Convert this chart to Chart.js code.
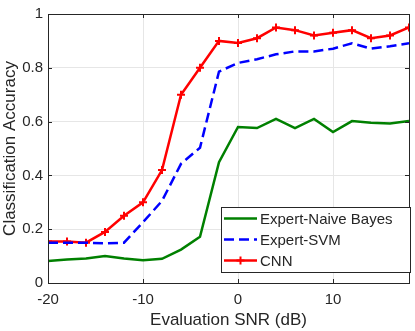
<!DOCTYPE html>
<html>
<head>
    <script src="https://cdn.jsdelivr.net/npm/chart.js@4.3.0/dist/chart.umd.min.js"></script>
    <style>
        html, body { margin: 0; padding: 0; background: #fff; }
        #wrap { width: 415px; height: 331px; }
    </style>
</head>
<body>
    <div id="wrap"><canvas id="myChart"></canvas></div>
    <script>
        // values, one point every 2 dB
        const snr = [-20, -18, -16, -14, -12, -10, -8, -6, -4, -2, 0, 2, 4, 6, 8, 10, 12, 14, 16, 18];
        const naiveBayes = [0.082, 0.087, 0.091, 0.10, 0.091, 0.085, 0.09, 0.124, 0.172, 0.449, 0.58, 0.576, 0.61, 0.576, 0.61, 0.561, 0.602, 0.596, 0.593, 0.602];
        const svm = [0.15, 0.15, 0.15, 0.147, 0.15, 0.226, 0.305, 0.443, 0.503, 0.786, 0.818, 0.832, 0.85, 0.861, 0.861, 0.871, 0.891, 0.871, 0.88, 0.891];
        const cnn = [0.154, 0.154, 0.15, 0.19, 0.25, 0.30, 0.42, 0.70, 0.80, 0.90, 0.892, 0.91, 0.95, 0.94, 0.92, 0.93, 0.94, 0.91, 0.92, 0.95];
        const seriesNames = ["Expert-Naive Bayes", "Expert-SVM", "CNN"];
        const xTicks = [-20, -10, 0, 10];
        const yTicks = [0, 0.2, 0.4, 0.6, 0.8, 1];

        const textColor = '#262626';
        const font = 'Liberation Sans, Arial, sans-serif';

        function pts(ys) {
            return snr.map((x, i) => ({ x: x, y: ys[i] }));
        }

        // box around the axes, inward ticks, legend inside the plot
        const boxPlugin = {
            id: 'box',
            afterDatasetsDraw(chart) {
                const ctx = chart.ctx;
                const a = chart.chartArea;
                const xs = chart.scales.x, ys = chart.scales.y;
                ctx.save();
                ctx.strokeStyle = textColor;
                ctx.lineWidth = 1;
                ctx.beginPath();
                xTicks.forEach(v => {
                    const px = Math.round(xs.getPixelForValue(v)) + 0.5;
                    ctx.moveTo(px, a.bottom); ctx.lineTo(px, a.bottom - 4);
                    ctx.moveTo(px, a.top); ctx.lineTo(px, a.top + 4);
                });
                yTicks.forEach(v => {
                    const py = Math.round(ys.getPixelForValue(v)) + 0.5;
                    ctx.moveTo(a.left, py); ctx.lineTo(a.left + 4, py);
                    ctx.moveTo(a.right, py); ctx.lineTo(a.right - 4, py);
                });
                ctx.stroke();
                ctx.strokeRect(Math.round(a.left) + 0.5, Math.round(a.top) + 0.5,
                    Math.round(a.right - a.left), Math.round(a.bottom - a.top));

                // legend
                const lx = 221, ly = 207, lw = 189, lh = 65;
                ctx.fillStyle = '#fff';
                ctx.fillRect(lx, ly, lw, lh);
                ctx.strokeRect(lx + 0.5, ly + 0.5, lw, lh);
                ctx.font = '15px ' + font;
                ctx.textBaseline = 'middle';
                chart.data.datasets.forEach((ds, i) => {
                    const y = ly + 11.5 + i * 21;
                    ctx.strokeStyle = ds.borderColor;
                    ctx.lineWidth = 2.5;
                    ctx.setLineDash(ds.borderDash || []);
                    ctx.beginPath();
                    ctx.moveTo(lx + 3, y); ctx.lineTo(lx + 36, y);
                    ctx.stroke();
                    ctx.setLineDash([]);
                    if (ds.pointRadius > 0) {
                        ctx.lineWidth = 2;
                        ctx.beginPath();
                        ctx.moveTo(lx + 19.5 - 4, y); ctx.lineTo(lx + 19.5 + 4, y);
                        ctx.moveTo(lx + 19.5, y - 4); ctx.lineTo(lx + 19.5, y + 4);
                        ctx.stroke();
                    }
                    ctx.fillStyle = textColor;
                    ctx.fillText(ds.label, lx + 39, y + 1);
                });
                ctx.restore();
            }
        };

        new Chart(document.getElementById('myChart'), {
            type: 'line',
            data: {
                datasets: [{
                    label: seriesNames[0],
                    data: pts(naiveBayes),
                    borderColor: '#008000',
                    borderWidth: 2.5,
                    pointRadius: 0
                }, {
                    label: seriesNames[1],
                    data: pts(svm),
                    borderColor: '#0000ff',
                    borderWidth: 2.5,
                    borderDash: [10, 5],
                    pointRadius: 0
                }, {
                    label: seriesNames[2],
                    data: pts(cnn),
                    borderColor: '#ff0000',
                    borderWidth: 2.5,
                    pointStyle: 'cross',
                    pointRadius: 4,
                    pointBorderWidth: 2,
                    pointBorderColor: '#ff0000'
                }]
            },
            options: {
                responsive: true,
                maintainAspectRatio: false,
                animation: false,
                layout: { padding: { top: 6, right: 5, left: 0, bottom: 0 } },
                plugins: {
                    legend: { display: false },
                    tooltip: { enabled: false }
                },
                scales: {
                    x: {
                        type: 'linear',
                        min: -20,
                        max: 18,
                        afterBuildTicks: s => { s.ticks = xTicks.map(v => ({ value: v })); },
                        afterFit: s => { s.height = 48; },
                        grid: { color: '#e6e6e6', drawTicks: false },
                        border: { display: false },
                        ticks: { color: textColor, font: { family: font, size: 15 }, padding: 8, maxRotation: 0 },
                        title: { display: true, text: 'Evaluation SNR (dB)', color: textColor, font: { family: font, size: 17 }, padding: { top: 0, bottom: 0 } }
                    },
                    y: {
                        min: 0,
                        max: 1,
                        afterBuildTicks: s => { s.ticks = yTicks.map(v => ({ value: v })); },
                        afterFit: s => { s.width = 48; },
                        grid: { color: '#e6e6e6', drawTicks: false },
                        border: { display: false },
                        ticks: { color: textColor, font: { family: font, size: 15 }, padding: 5, callback: v => String(v) },
                        title: { display: true, text: 'Classification Accuracy', color: textColor, font: { family: font, size: 17 }, padding: { top: 0, bottom: 0 } }
                    }
                }
            },
            plugins: [boxPlugin]
        });
    </script>
</body>
</html>
